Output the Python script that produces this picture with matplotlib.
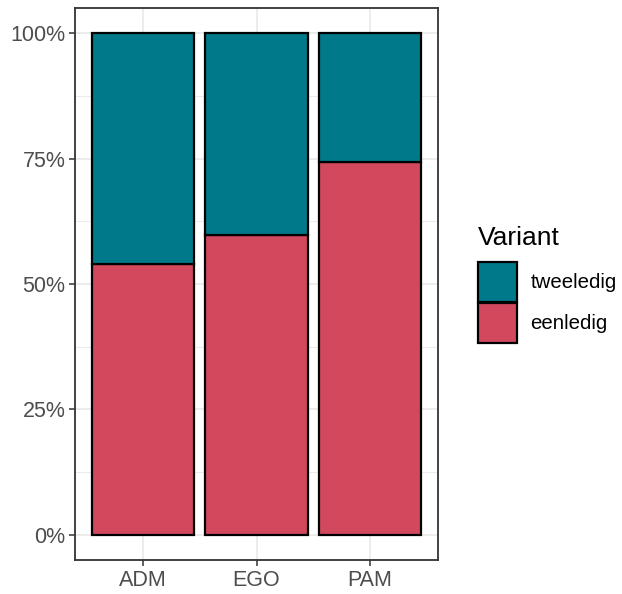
import numpy as np
import matplotlib.pyplot as plt
from matplotlib.patches import Patch
from matplotlib.ticker import FixedLocator, PercentFormatter

plt.rcParams['font.family'] = ['Liberation Sans', 'DejaVu Sans']

# data: share of each variant per category
categories = ['ADM', 'EGO', 'PAM']
eenledig = [0.539, 0.597, 0.743]
tweeledig = [1 - v for v in eenledig]

col_een = '#D2495E'
col_twee = '#007A8A'

fig = plt.figure(figsize=(6.22, 5.94), dpi=100)
ax = fig.add_axes([75 / 622, 34 / 594, 363 / 622, 552 / 594])

x = np.arange(1, len(categories) + 1)
ax.bar(x, eenledig, width=0.9, color=col_een, edgecolor='black', linewidth=1.6, zorder=3)
ax.bar(x, tweeledig, width=0.9, bottom=eenledig, color=col_twee, edgecolor='black',
       linewidth=1.6, zorder=3)

ax.set_xlim(0.4, 3.6)
ax.set_ylim(-0.05, 1.05)
ax.set_xticks(x)
ax.set_xticklabels(categories)
ax.set_yticks([0, 0.25, 0.5, 0.75, 1.0])
ax.yaxis.set_major_formatter(PercentFormatter(1.0, decimals=0))
ax.yaxis.set_minor_locator(FixedLocator([0.125, 0.375, 0.625, 0.875]))

# theme_bw look
ax.grid(which='major', color='#EBEBEB', linewidth=1.3, zorder=0)
ax.grid(which='minor', axis='y', color='#EBEBEB', linewidth=0.7, zorder=0)
ax.tick_params(which='major', length=4.5, width=1.1, color='#333333', labelsize=15.5,
               labelcolor='#4D4D4D', pad=2.5)
ax.tick_params(which='minor', length=0)
for s in ax.spines.values():
    s.set_color('#333333')
    s.set_linewidth(1.3)

# legend (title drawn separately to get ggplot's spacing)
fig.text(478 / 622, 1 - 245 / 594, 'Variant', fontsize=19, va='baseline', ha='left')
handles = [Patch(facecolor=col_twee, edgecolor='black', linewidth=1.6, label='tweeledig'),
           Patch(facecolor=col_een, edgecolor='black', linewidth=1.6, label='eenledig')]
leg = fig.legend(handles=handles, loc='upper left',
                 bbox_to_anchor=(478 / 622, 1 - 262 / 594), frameon=False,
                 fontsize=14.7, handlelength=1.9, handleheight=2.62,
                 labelspacing=0.05, handletextpad=0.67, borderpad=0, borderaxespad=0)

fig.savefig('out.png', dpi=100)
